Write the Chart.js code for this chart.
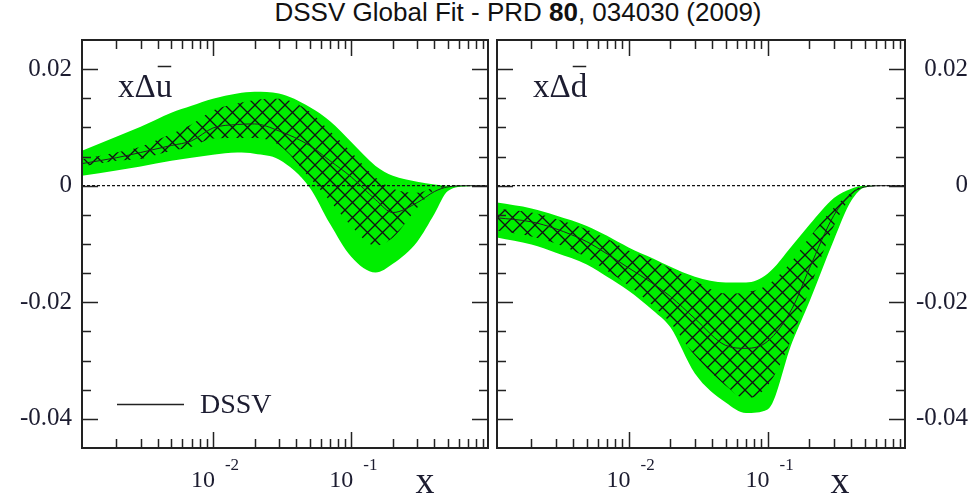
<!DOCTYPE html>
<html>
<head>
<meta charset="utf-8">
<script src="https://cdn.jsdelivr.net/npm/chart.js@4"></script>
<style>
body{margin:0;width:976px;height:496px;position:relative;background:#fff;overflow:hidden}
canvas{position:absolute;top:0}
#t{position:absolute;top:-3px;left:0;width:1036px;text-align:center;font:26px "Liberation Sans",Arial,sans-serif;color:#111}
</style>
</head>
<body>
<div id="t">DSSV Global Fit - PRD <b>80</b>, 034030 (2009)</div>
<canvas id="cu" width="490" height="496" style="left:0"></canvas>
<canvas id="cd" width="486" height="496" style="left:490px"></canvas>
<script>
// x grid shared by both panels (log scale)
const xs=[0.00113,0.002,0.003,0.005,0.007,0.01,0.015,0.02,0.03,0.05,0.07,0.1,0.15,0.2,0.3,0.4,0.5,0.7,0.975];

// x*Delta ubar
const ubarBandHi =[0.0060,0.0084,0.0101,0.0125,0.0137,0.0149,0.0158,0.0161,0.0158,0.0135,0.0111,0.0075,0.0034,0.0017,0.0007,0.0002,0,0,0];
const ubarBandLo =[0.0017,0.0026,0.0033,0.0043,0.0048,0.0053,0.0057,0.0055,0.0045,-0.0003,-0.0065,-0.0122,-0.0149,-0.0134,-0.0096,-0.0048,-0.0009,-0.0001,0];
const ubarHatchHi=[0.0045,0.0057,0.0067,0.0089,0.0105,0.0129,0.0141,0.0147,0.0149,0.0127,0.0094,0.0058,0.0014,-0.0005,-0.0012,-0.0003,0,0,0];
const ubarHatchLo=[0.0033,0.0043,0.0046,0.0060,0.0067,0.0081,0.0082,0.0082,0.0070,0.0014,-0.0026,-0.0069,-0.0103,-0.0089,-0.0038,-0.0007,-0.0002,0,0];
const ubarDSSV   =[0.0038,0.0048,0.0057,0.0069,0.0077,0.0099,0.0105,0.0106,0.0094,0.0069,0.0043,0.0015,-0.0024,-0.0046,-0.0029,-0.0010,-0.0002,0,0];

// x*Delta dbar
const dbarBandHi =[-0.0029,-0.0039,-0.0051,-0.0069,-0.0086,-0.0106,-0.0125,-0.0139,-0.0156,-0.0166,-0.0166,-0.0151,-0.0103,-0.0067,-0.0021,-0.0005,0,0,0];
const dbarBandLo =[-0.0089,-0.0101,-0.0115,-0.0135,-0.0156,-0.0180,-0.0214,-0.0243,-0.0322,-0.0372,-0.0390,-0.0384,-0.0269,-0.0199,-0.0093,-0.0026,-0.0003,0,0];
const dbarHatchHi=[-0.0039,-0.0046,-0.0057,-0.0075,-0.0091,-0.0111,-0.0127,-0.0142,-0.0163,-0.0185,-0.0183,-0.0170,-0.0129,-0.0089,-0.0038,-0.0012,0,0,0];
const dbarHatchLo=[-0.0077,-0.0087,-0.0099,-0.0123,-0.0146,-0.0171,-0.0206,-0.0235,-0.0291,-0.0343,-0.0365,-0.0343,-0.0261,-0.0178,-0.0069,-0.0019,-0.0002,0,0];
const dbarDSSV   =[-0.0055,-0.0062,-0.0074,-0.0096,-0.0117,-0.0141,-0.0168,-0.0190,-0.0228,-0.0274,-0.0279,-0.0267,-0.0211,-0.0142,-0.0051,-0.0014,-0.0002,0,0];

const yTicks=[-0.04,-0.02,0,0.02];
const yTickLabels=["-0.04","-0.02","0","0.02"];
const xTicks=[0.01,0.1];
const xTickExp=["-2","-1"];
const yMin=-0.045,yMax=0.025;

const serif='"Liberation Serif","Times New Roman",serif';
const green='rgb(0,238,0)';

function hatch(){
 const s=15,c=document.createElement('canvas');
 c.width=c.height=s;
 const g=c.getContext('2d');
 g.strokeStyle='#111';g.lineWidth=1.3;g.beginPath();
 for(let k=-1;k<=1;k++){
  g.moveTo(k*s,0);g.lineTo(k*s+s,s);
  g.moveTo(k*s+s,0);g.lineTo(k*s,s);
 }
 g.stroke();
 return g.createPattern(c,'repeat');
}
const pattern=hatch();

const pts=a=>a.map((v,i)=>({x:xs[i],y:v}));

// frame, inward ticks, panel label, x tick labels, legend
const frame={
 id:'frame',
 afterDraw(ch,args,o){
  const {ctx,chartArea:a,scales:{x,y}}=ch;
  ctx.save();
  ctx.strokeStyle='#222';ctx.fillStyle='#1c1c30';
  ctx.lineWidth=1.5;
  ctx.beginPath();
  for(let d=0.001;d<1;d*=10){
   for(let m=1;m<=9;m++){
    const v=d*m;
    if(v<xs[0]||v>xs[xs.length-1])continue;
    const p=Math.round(x.getPixelForValue(v))+0.5,len=m===1?16:9;
    ctx.moveTo(p,a.bottom);ctx.lineTo(p,a.bottom-len);
    ctx.moveTo(p,a.top);ctx.lineTo(p,a.top+len);
   }
  }
  for(let i=-8;i<=4;i++){
   const v=i*0.005,p=Math.round(y.getPixelForValue(v))+0.5,len=i%4===0?16:9;
   ctx.moveTo(a.left,p);ctx.lineTo(a.left+len,p);
   ctx.moveTo(a.right,p);ctx.lineTo(a.right-len,p);
  }
  ctx.stroke();
  ctx.lineWidth=2;
  ctx.strokeRect(a.left,a.top,a.right-a.left,a.bottom-a.top);

  xTicks.forEach((v,i)=>{
   const p=x.getPixelForValue(v);
   ctx.font='24px '+serif;ctx.textAlign='right';ctx.textBaseline='alphabetic';
   ctx.fillText('10',p+2,487);
   ctx.font='17px '+serif;ctx.textAlign='left';
   ctx.fillText(xTickExp[i],p+12,470);
  });
  ctx.font='38px '+serif;ctx.textAlign='center';
  ctx.fillText('x',a.left+343,493);

  ctx.font='33px '+serif;ctx.textAlign='left';
  const lx=a.left+36;
  ctx.fillText('xΔ'+o.q,lx,97);
  const w=ctx.measureText('xΔ').width,qw=ctx.measureText(o.q).width;
  ctx.lineWidth=1.5;ctx.beginPath();
  ctx.moveTo(lx+w+2,66.5);ctx.lineTo(lx+w+qw-1,66.5);ctx.stroke();

  if(o.legend){
   ctx.beginPath();ctx.moveTo(117,404.5);ctx.lineTo(184,404.5);ctx.stroke();
   ctx.font='28px '+serif;
   ctx.fillText('DSSV',200,413);
  }
  ctx.restore();
 }
};

function panel(id,side,q,legend,hi,lo,hhi,hlo,mid){
 const line={pointRadius:0,borderWidth:0,borderColor:'transparent',fill:false,cubicInterpolationMode:'monotone'};
 return new Chart(document.getElementById(id),{
  type:'line',
  data:{datasets:[
   {data:[{x:xs[0],y:0},{x:xs[xs.length-1],y:0}],pointRadius:0,borderColor:'#111',borderWidth:1.2,borderDash:[3,2],fill:false},
   {...line,data:pts(mid),borderColor:'#222',borderWidth:1},
   {...line,data:pts(hhi)},
   {...line,data:pts(hlo),fill:'-1',backgroundColor:pattern},
   {...line,data:pts(hi)},
   {...line,data:pts(lo),fill:'-1',backgroundColor:green}
  ]},
  options:{
   responsive:false,animation:false,
   layout:{padding:side==='left'?{top:40,bottom:48,left:0,right:2}:{top:40,bottom:48,left:7,right:8}},
   plugins:{legend:{display:false},tooltip:{enabled:false},frame:{q,legend}},
   scales:{
    x:{type:'logarithmic',min:xs[0],max:xs[xs.length-1],display:false},
    y:{type:'linear',min:yMin,max:yMax,position:side,
     afterBuildTicks:s=>{s.ticks=yTicks.map(v=>({value:v}));},
     afterFit:s=>{s.width=side==='left'?82:63;},
     grid:{display:false,drawTicks:false},border:{display:false},
     ticks:{font:{family:serif,size:25},color:'#1c1c30',padding:10,crossAlign:side==='left'?'near':'far',
      callback:(v,i)=>yTickLabels[i]}}
   }
  },
  plugins:[frame]
 });
}

panel('cu','left','u',true,ubarBandHi,ubarBandLo,ubarHatchHi,ubarHatchLo,ubarDSSV);
panel('cd','right','d',false,dbarBandHi,dbarBandLo,dbarHatchHi,dbarHatchLo,dbarDSSV);
</script>
</body>
</html>
